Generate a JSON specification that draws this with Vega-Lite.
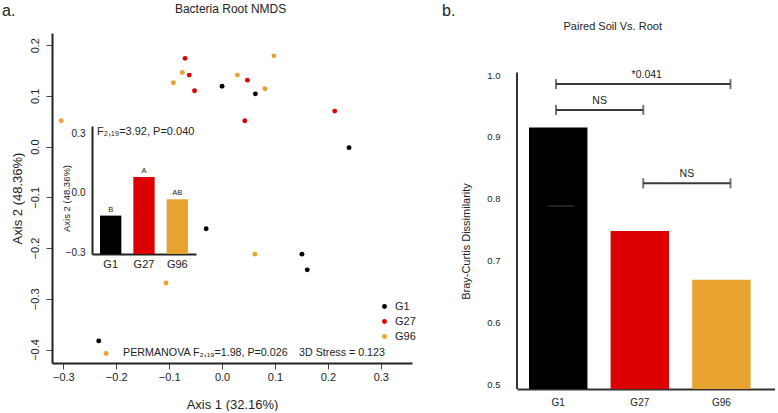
{
  "$schema": "https://vega.github.io/schema/vega-lite/v6.json",
  "background": "white",
  "padding": {"left": 2, "top": 2, "right": 0, "bottom": 0},
  "config": {
    "view": {"stroke": null},
    "font": "Liberation Sans",
    "axis": {"grid": false, "labelColor": "#222", "titleColor": "#222", "domainColor": "#222", "tickColor": "#444", "labelFont": "Liberation Sans", "titleFont": "Liberation Sans", "titleFontWeight": "normal"},
    "text": {"font": "Liberation Sans", "color": "#222"}
  },
  "datasets": {
    "nmds": [
      {"group": "G1", "axis1": 0.000, "axis2": 0.119},
      {"group": "G1", "axis1": 0.063, "axis2": 0.104},
      {"group": "G1", "axis1": 0.240, "axis2": -0.002},
      {"group": "G1", "axis1": -0.030, "axis2": -0.162},
      {"group": "G1", "axis1": 0.151, "axis2": -0.212},
      {"group": "G1", "axis1": 0.161, "axis2": -0.243},
      {"group": "G1", "axis1": -0.233, "axis2": -0.383},
      {"group": "G27", "axis1": -0.070, "axis2": 0.174},
      {"group": "G27", "axis1": -0.062, "axis2": 0.141},
      {"group": "G27", "axis1": -0.052, "axis2": 0.110},
      {"group": "G27", "axis1": 0.048, "axis2": 0.131},
      {"group": "G27", "axis1": 0.043, "axis2": 0.051},
      {"group": "G27", "axis1": 0.213, "axis2": 0.070},
      {"group": "G96", "axis1": -0.304, "axis2": 0.051},
      {"group": "G96", "axis1": -0.092, "axis2": 0.126},
      {"group": "G96", "axis1": -0.075, "axis2": 0.146},
      {"group": "G96", "axis1": 0.029, "axis2": 0.141},
      {"group": "G96", "axis1": 0.081, "axis2": 0.114},
      {"group": "G96", "axis1": 0.098, "axis2": 0.179},
      {"group": "G96", "axis1": 0.062, "axis2": -0.212},
      {"group": "G96", "axis1": -0.106, "axis2": -0.269},
      {"group": "G96", "axis1": -0.219, "axis2": -0.408}
    ],
    "inset": [
      {"group": "G1", "mean": -0.115, "letter": "B"},
      {"group": "G27", "mean": 0.081, "letter": "A"},
      {"group": "G96", "mean": -0.032, "letter": "AB"}
    ],
    "bray": [
      {"group": "G1", "dissimilarity": 0.915},
      {"group": "G27", "dissimilarity": 0.7475},
      {"group": "G96", "dissimilarity": 0.6686}
    ],
    "brackets": [
      {"from": 1, "to": 3, "level": 0.9853, "mid": 2.04, "label": "*0.041"},
      {"from": 1, "to": 2, "level": 0.9436, "mid": 1.5, "label": "NS"},
      {"from": 2, "to": 3, "level": 0.8248, "mid": 2.5, "label": "NS"}
    ],
    "one": [{}]
  },
  "bounds": "flush",
  "spacing": 105,
  "hconcat": [
    {
      "width": 360,
      "height": 330,
      "layer": [
        {
          "layer": [
            {
              "data": {"name": "nmds"},
              "mark": {"type": "circle", "size": 24, "opacity": 1},
              "encoding": {
                "x": {"field": "axis1", "type": "quantitative",
                  "scale": {"domain": [-0.3214, 0.359], "nice": false, "zero": false},
                  "axis": {"orient": "bottom", "values": [-0.3, -0.2, -0.1, 0, 0.1, 0.2, 0.3], "format": ".1f",
                    "title": "Axis 1 (32.16%)", "titleFontSize": 13, "titleY": 41, "titleBaseline": "middle",
                    "labelFontSize": 11, "labelPadding": 2, "tickSize": 6, "domainWidth": 2, "labelFlush": false}},
                "y": {"field": "axis2", "type": "quantitative",
                  "scale": {"domain": [-0.4266, 0.224], "nice": false, "zero": false},
                  "axis": {"orient": "left", "values": [-0.4, -0.3, -0.2, -0.1, 0, 0.1, 0.2], "format": ".1f",
                    "labelAngle": -90, "labelAlign": "center", "labelBaseline": "bottom", "labelPadding": 6,
                    "title": "Axis 2 (48.36%)", "titleFontSize": 13, "titleX": -35, "titleY": 165, "titleBaseline": "middle", "titleAlign": "center",
                    "labelFontSize": 11, "tickSize": 6, "domainWidth": 2, "labelFlush": false}},
                "color": {"field": "group", "type": "nominal",
                  "scale": {"domain": ["G1", "G27", "G96"], "range": ["#000000", "#dc0000", "#e8a22f"]},
                  "legend": {"orient": "none", "legendX": 327, "legendY": 268, "title": null, "labelFontSize": 11,
                    "symbolType": "circle", "symbolSize": 24, "rowPadding": 3, "padding": 0, "labelOffset": 5, "labelColor": "#222"}}
              }
            },
            {
              "data": {"name": "one"},
              "mark": {"type": "text", "align": "left", "baseline": "middle", "fontSize": 10.7},
              "encoding": {"x": {"datum": -0.187}, "y": {"datum": -0.4075}, "text": {"value": "PERMANOVA F₂,₁₉=1.98, P=0.026"}}
            },
            {
              "data": {"name": "one"},
              "mark": {"type": "text", "align": "left", "baseline": "middle", "fontSize": 10.7},
              "encoding": {"x": {"datum": 0.1456}, "y": {"datum": -0.4075}, "text": {"value": "3D Stress = 0.123"}}
            },
            {
              "data": {"name": "one"},
              "mark": {"type": "text", "align": "left", "baseline": "middle", "fontSize": 11},
              "encoding": {"x": {"datum": -0.2363}, "y": {"datum": 0.029}, "text": {"value": "F₂,₁₉=3.92, P=0.040"}}
            },
            {
              "data": {"name": "one"},
              "mark": {"type": "text", "align": "center", "baseline": "alphabetic", "fontSize": 12},
              "encoding": {"x": {"datum": 0.0161}, "y": {"datum": 0.264}, "text": {"value": "Bacteria Root NMDS"}}
            },
            {
              "data": {"name": "one"},
              "mark": {"type": "text", "align": "left", "baseline": "alphabetic", "fontSize": 16},
              "encoding": {"x": {"datum": -0.4159}, "y": {"datum": 0.2578}, "text": {"value": "a."}}
            },
            {
              "data": {"name": "one"},
              "mark": {"type": "text", "align": "left", "baseline": "alphabetic", "fontSize": 16},
              "encoding": {"x": {"datum": 0.4159}, "y": {"datum": 0.2578}, "text": {"value": "b."}}
            }
          ]
        },
        {
          "data": {"name": "inset"},
          "layer": [
            {
              "mark": {"type": "bar"},
              "encoding": {
                "x": {"field": "group", "type": "nominal", "sort": null,
                  "scale": {"range": [40, 144], "paddingInner": 0.36, "paddingOuter": 0.24},
                  "axis": {"orient": "bottom", "offset": -109, "title": null, "labelAngle": 0, "tickSize": 0, "labelPadding": 4, "labelFontSize": 11, "domainWidth": 2}},
                "y": {"field": "mean", "type": "quantitative",
                  "scale": {"domain": [-0.31, 0.34], "range": [221, 93], "nice": false, "zero": false},
                  "axis": {"orient": "left", "offset": -40, "values": [-0.3, 0, 0.3], "format": ".1f", "tickSize": 0, "labelPadding": 7, "labelFontSize": 10,
                    "title": "Axis 2 (48.36%)", "titleFontSize": 9.5, "titleX": -26, "titleY": 165, "titleBaseline": "middle", "titleAlign": "center", "domainWidth": 2}},
                "y2": {"datum": -0.31},
                "color": {"field": "group", "type": "nominal",
                  "scale": {"domain": ["G1", "G27", "G96"], "range": ["#000000", "#dc0000", "#e8a22f"]}, "legend": null}
              }
            },
            {
              "mark": {"type": "text", "baseline": "alphabetic", "dy": -4, "fontSize": 7.5},
              "encoding": {
                "x": {"field": "group", "type": "nominal", "sort": null},
                "y": {"field": "mean", "type": "quantitative"},
                "text": {"field": "letter"}
              }
            }
          ]
        }
      ],
      "resolve": {"scale": {"x": "independent", "y": "independent", "color": "independent"}, "axis": {"x": "independent", "y": "independent"}}
    },
    {
      "width": 258,
      "height": 356,
      "layer": [
        {
          "data": {"name": "bray"},
          "mark": {"type": "bar"},
          "encoding": {
            "x": {"field": "group", "type": "nominal", "sort": null,
              "scale": {"paddingInner": 0.284, "paddingOuter": 0.223, "align": 0.33},
              "axis": {"title": null, "labelAngle": 0, "tickSize": 0, "labelPadding": 8, "labelFontSize": 10, "domainWidth": 2, "domainColor": "#333"}},
            "y": {"field": "dissimilarity", "type": "quantitative",
              "scale": {"domain": [0.492, 1.068], "nice": false, "zero": false},
              "axis": {"values": [0.5, 0.6, 0.7, 0.8, 0.9, 1.0], "format": ".1f", "domain": false, "ticks": false, "tickSize": 0, "labelPadding": 17, "labelFontSize": 9.5,
                "title": "Bray-Curtis Dissimilarity", "titleFontSize": 11, "titleX": -51, "titleY": 208, "titleBaseline": "middle", "titleAlign": "center"}},
            "y2": {"datum": 0.492},
            "color": {"field": "group", "type": "nominal",
              "scale": {"domain": ["G1", "G27", "G96"], "range": ["#000000", "#dc0000", "#e8a22f"]}, "legend": null}
          }
        },
        {
          "layer": [
            {
              "data": {"name": "one"},
              "mark": {"type": "rule", "color": "#444", "strokeWidth": 1},
              "encoding": {"x": {"datum": 0.91, "type": "quantitative", "scale": {"domain": [0.553, 3.51], "nice": false, "zero": false}, "axis": null},
                "x2": {"datum": 1.21}, "y": {"datum": 0.788, "type": "quantitative", "axis": null}}
            },
            {
              "data": {"name": "one"},
              "mark": {"type": "rule", "color": "#333", "strokeWidth": 2},
              "encoding": {"x": {"datum": 0.553, "type": "quantitative", "axis": null}, "y": {"datum": 0.492, "type": "quantitative", "axis": null}, "y2": {"datum": 1.004}}
            },
            {
              "data": {"name": "brackets"},
              "mark": {"type": "rule", "color": "#3a3a3a", "strokeWidth": 2},
              "encoding": {"x": {"field": "from", "type": "quantitative", "axis": null}, "x2": {"field": "to"}, "y": {"field": "level", "type": "quantitative", "axis": null}}
            },
            {
              "data": {"name": "brackets"},
              "mark": {"type": "tick", "orient": "vertical", "color": "#3a3a3a", "size": 10, "thickness": 2},
              "encoding": {"x": {"field": "from", "type": "quantitative", "axis": null}, "y": {"field": "level", "type": "quantitative", "axis": null}}
            },
            {
              "data": {"name": "brackets"},
              "mark": {"type": "tick", "orient": "vertical", "color": "#3a3a3a", "size": 10, "thickness": 2},
              "encoding": {"x": {"field": "to", "type": "quantitative", "axis": null}, "y": {"field": "level", "type": "quantitative", "axis": null}}
            },
            {
              "data": {"name": "brackets"},
              "mark": {"type": "text", "baseline": "alphabetic", "dy": -6, "fontSize": 10.5},
              "encoding": {"x": {"field": "mid", "type": "quantitative", "axis": null}, "y": {"field": "level", "type": "quantitative", "axis": null}, "text": {"field": "label"}}
            },
            {
              "data": {"name": "one"},
              "mark": {"type": "text", "baseline": "alphabetic", "fontSize": 11},
              "encoding": {"x": {"datum": 1.65, "axis": null}, "y": {"datum": 1.0725, "axis": null}, "text": {"value": "Paired Soil Vs. Root"}}
            }
          ]
        }
      ],
      "resolve": {"scale": {"x": "independent"}, "axis": {"x": "independent", "y": "independent"}}
    }
  ]
}
